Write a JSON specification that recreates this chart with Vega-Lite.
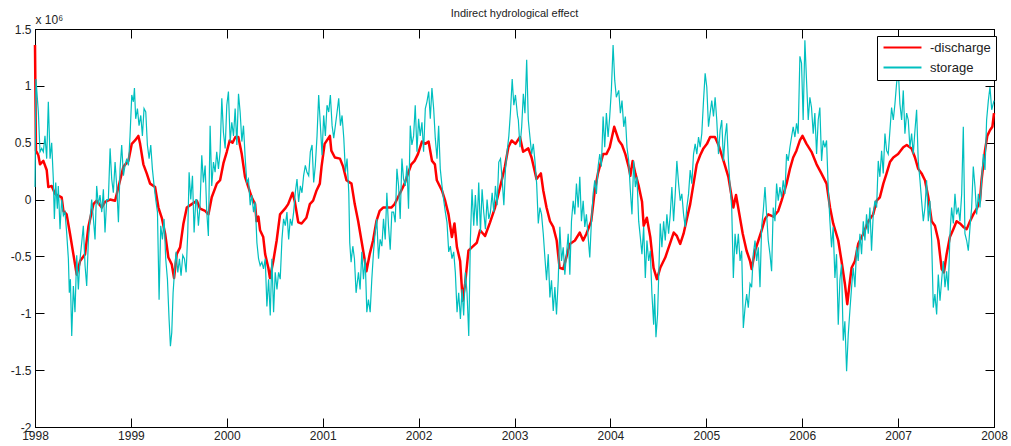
{
"$schema": "https://vega.github.io/schema/vega-lite/v6.json",
"width": 959, "height": 398,
"autosize": {"type": "none"},
"padding": {"left": 35, "top": 29, "right": 17, "bottom": 19},
"background": "white",
"title": {"text": "Indirect hydrological effect", "fontSize": 11, "font": "Liberation Sans", "fontWeight": "normal", "color": "#222", "offset": 9, "dy": 15, "anchor": "middle"},
"config": {
  "view": {"stroke": "black", "strokeWidth": 1},
  "axis": {"grid": false, "domainColor": "black", "domainWidth": 1, "tickColor": "black", "tickWidth": 1, "tickSize": -9,
           "labelFont": "Liberation Sans", "labelFontSize": 12, "labelColor": "#222", "labelFlush": false, "labelOverlap": false, "labelBound": false}
},
"datasets": {
"discharge": [
{"t":1998.000,"v":1.36},{"t":1998.010,"v":0.43},{"t":1998.035,"v":0.39},{"t":1998.052,"v":0.31},{"t":1998.087,"v":0.34},{"t":1998.122,"v":0.26},{"t":1998.139,"v":0.11},{"t":1998.174,"v":0.12},{"t":1998.209,"v":0.05},{"t":1998.278,"v":0.02},{"t":1998.296,"v":-0.10},{"t":1998.330,"v":-0.13},{"t":1998.365,"v":-0.30},{"t":1998.400,"v":-0.48},{"t":1998.435,"v":-0.66},{"t":1998.470,"v":-0.54},{"t":1998.522,"v":-0.48},{"t":1998.557,"v":-0.24},{"t":1998.609,"v":-0.04},{"t":1998.643,"v":-0.01},{"t":1998.696,"v":-0.07},{"t":1998.730,"v":-0.02},{"t":1998.783,"v":0.00},{"t":1998.835,"v":-0.01},{"t":1998.870,"v":0.11},{"t":1998.922,"v":0.29},{"t":1998.974,"v":0.34},
{"t":1999.009,"v":0.49},{"t":1999.043,"v":0.52},{"t":1999.078,"v":0.56},{"t":1999.096,"v":0.49},{"t":1999.130,"v":0.31},{"t":1999.165,"v":0.23},{"t":1999.200,"v":0.14},{"t":1999.252,"v":0.11},{"t":1999.287,"v":-0.07},{"t":1999.322,"v":-0.16},{"t":1999.357,"v":-0.30},{"t":1999.391,"v":-0.51},{"t":1999.426,"v":-0.57},{"t":1999.450,"v":-0.69},{"t":1999.478,"v":-0.48},{"t":1999.513,"v":-0.42},{"t":1999.548,"v":-0.21},{"t":1999.583,"v":-0.07},{"t":1999.635,"v":-0.04},{"t":1999.687,"v":-0.01},{"t":1999.722,"v":-0.08},{"t":1999.774,"v":-0.10},{"t":1999.809,"v":-0.13},{"t":1999.843,"v":0.02},{"t":1999.896,"v":0.14},{"t":1999.930,"v":0.17},{"t":1999.965,"v":0.32},
{"t":2000.000,"v":0.42},{"t":2000.030,"v":0.52},{"t":2000.060,"v":0.50},{"t":2000.090,"v":0.55},{"t":2000.120,"v":0.55},{"t":2000.156,"v":0.40},{"t":2000.190,"v":0.20},{"t":2000.225,"v":0.11},{"t":2000.260,"v":0.02},{"t":2000.295,"v":-0.04},{"t":2000.310,"v":-0.19},{"t":2000.330,"v":-0.15},{"t":2000.347,"v":-0.27},{"t":2000.380,"v":-0.33},{"t":2000.400,"v":-0.48},{"t":2000.433,"v":-0.60},{"t":2000.450,"v":-0.69},{"t":2000.485,"v":-0.54},{"t":2000.520,"v":-0.36},{"t":2000.555,"v":-0.13},{"t":2000.607,"v":-0.08},{"t":2000.640,"v":-0.04},{"t":2000.686,"v":0.06},{"t":2000.710,"v":-0.02},{"t":2000.745,"v":-0.20},{"t":2000.780,"v":-0.21},{"t":2000.830,"v":-0.16},{"t":2000.866,"v":-0.04},{"t":2000.900,"v":-0.01},{"t":2000.936,"v":0.08},{"t":2000.970,"v":0.14},{"t":2000.988,"v":0.29},
{"t":2001.020,"v":0.49},{"t":2001.075,"v":0.56},{"t":2001.090,"v":0.43},{"t":2001.127,"v":0.37},{"t":2001.180,"v":0.36},{"t":2001.213,"v":0.29},{"t":2001.248,"v":0.17},{"t":2001.300,"v":0.14},{"t":2001.334,"v":-0.04},{"t":2001.370,"v":-0.19},{"t":2001.404,"v":-0.36},{"t":2001.440,"v":-0.54},{"t":2001.456,"v":-0.63},{"t":2001.490,"v":-0.48},{"t":2001.525,"v":-0.36},{"t":2001.560,"v":-0.19},{"t":2001.594,"v":-0.10},{"t":2001.630,"v":-0.07},{"t":2001.680,"v":-0.07},{"t":2001.716,"v":-0.07},{"t":2001.750,"v":-0.04},{"t":2001.785,"v":0.02},{"t":2001.820,"v":0.08},{"t":2001.854,"v":0.14},{"t":2001.890,"v":0.23},{"t":2001.924,"v":0.31},{"t":2001.958,"v":0.34},{"t":2001.993,"v":0.40},
{"t":2002.035,"v":0.51},{"t":2002.070,"v":0.49},{"t":2002.104,"v":0.51},{"t":2002.140,"v":0.34},{"t":2002.170,"v":0.31},{"t":2002.190,"v":0.17},{"t":2002.243,"v":0.08},{"t":2002.277,"v":-0.01},{"t":2002.312,"v":-0.13},{"t":2002.347,"v":-0.33},{"t":2002.374,"v":-0.21},{"t":2002.400,"v":-0.42},{"t":2002.433,"v":-0.54},{"t":2002.460,"v":-0.89},{"t":2002.485,"v":-0.74},{"t":2002.520,"v":-0.45},{"t":2002.555,"v":-0.42},{"t":2002.607,"v":-0.38},{"t":2002.641,"v":-0.27},{"t":2002.693,"v":-0.32},{"t":2002.745,"v":-0.20},{"t":2002.797,"v":-0.07},{"t":2002.832,"v":0.05},{"t":2002.867,"v":0.17},{"t":2002.900,"v":0.29},{"t":2002.936,"v":0.46},{"t":2002.970,"v":0.52},
{"t":2003.010,"v":0.49},{"t":2003.057,"v":0.55},{"t":2003.090,"v":0.42},{"t":2003.144,"v":0.45},{"t":2003.178,"v":0.37},{"t":2003.230,"v":0.18},{"t":2003.275,"v":0.23},{"t":2003.300,"v":0.08},{"t":2003.334,"v":-0.07},{"t":2003.370,"v":-0.19},{"t":2003.404,"v":-0.24},{"t":2003.440,"v":-0.36},{"t":2003.470,"v":-0.60},{"t":2003.508,"v":-0.61},{"t":2003.540,"v":-0.51},{"t":2003.577,"v":-0.39},{"t":2003.630,"v":-0.36},{"t":2003.680,"v":-0.29},{"t":2003.716,"v":-0.36},{"t":2003.750,"v":-0.30},{"t":2003.800,"v":-0.19},{"t":2003.837,"v":0.08},{"t":2003.870,"v":0.23},{"t":2003.924,"v":0.40},{"t":2003.958,"v":0.40},{"t":2003.993,"v":0.46},
{"t":2004.040,"v":0.64},{"t":2004.087,"v":0.52},{"t":2004.121,"v":0.48},{"t":2004.156,"v":0.40},{"t":2004.190,"v":0.29},{"t":2004.208,"v":0.21},{"t":2004.232,"v":0.34},{"t":2004.260,"v":0.23},{"t":2004.295,"v":0.12},{"t":2004.330,"v":-0.02},{"t":2004.347,"v":-0.23},{"t":2004.380,"v":-0.16},{"t":2004.416,"v":-0.33},{"t":2004.450,"v":-0.60},{"t":2004.485,"v":-0.70},{"t":2004.520,"v":-0.60},{"t":2004.572,"v":-0.51},{"t":2004.624,"v":-0.38},{"t":2004.660,"v":-0.29},{"t":2004.693,"v":-0.32},{"t":2004.728,"v":-0.39},{"t":2004.763,"v":-0.30},{"t":2004.797,"v":-0.17},{"t":2004.832,"v":-0.04},{"t":2004.867,"v":0.14},{"t":2004.900,"v":0.31},{"t":2004.936,"v":0.39},{"t":2004.970,"v":0.45},
{"t":2005.007,"v":0.49},{"t":2005.040,"v":0.55},{"t":2005.090,"v":0.55},{"t":2005.127,"v":0.48},{"t":2005.180,"v":0.34},{"t":2005.230,"v":0.20},{"t":2005.265,"v":0.02},{"t":2005.282,"v":-0.07},{"t":2005.310,"v":0.04},{"t":2005.345,"v":-0.13},{"t":2005.380,"v":-0.30},{"t":2005.420,"v":-0.45},{"t":2005.456,"v":-0.54},{"t":2005.473,"v":-0.61},{"t":2005.508,"v":-0.45},{"t":2005.543,"v":-0.36},{"t":2005.577,"v":-0.27},{"t":2005.612,"v":-0.17},{"t":2005.646,"v":-0.13},{"t":2005.700,"v":-0.15},{"t":2005.750,"v":-0.10},{"t":2005.785,"v":-0.01},{"t":2005.837,"v":0.14},{"t":2005.872,"v":0.27},{"t":2005.906,"v":0.37},{"t":2005.940,"v":0.43},{"t":2005.976,"v":0.52},
{"t":2006.003,"v":0.56},{"t":2006.045,"v":0.49},{"t":2006.097,"v":0.42},{"t":2006.150,"v":0.31},{"t":2006.200,"v":0.23},{"t":2006.254,"v":0.14},{"t":2006.290,"v":-0.07},{"t":2006.323,"v":-0.21},{"t":2006.376,"v":-0.36},{"t":2006.410,"v":-0.54},{"t":2006.445,"v":-0.74},{"t":2006.470,"v":-0.92},{"t":2006.490,"v":-0.77},{"t":2006.515,"v":-0.60},{"t":2006.550,"v":-0.54},{"t":2006.584,"v":-0.39},{"t":2006.637,"v":-0.30},{"t":2006.690,"v":-0.19},{"t":2006.740,"v":-0.13},{"t":2006.776,"v":-0.01},{"t":2006.810,"v":0.02},{"t":2006.846,"v":0.14},{"t":2006.880,"v":0.23},{"t":2006.915,"v":0.33},{"t":2006.950,"v":0.37},
{"t":2007.000,"v":0.40},{"t":2007.054,"v":0.46},{"t":2007.090,"v":0.48},{"t":2007.140,"v":0.45},{"t":2007.176,"v":0.37},{"t":2007.210,"v":0.27},{"t":2007.245,"v":0.23},{"t":2007.280,"v":0.17},{"t":2007.315,"v":0.02},{"t":2007.350,"v":-0.19},{"t":2007.384,"v":-0.23},{"t":2007.420,"v":-0.36},{"t":2007.454,"v":-0.61},{"t":2007.478,"v":-0.64},{"t":2007.506,"v":-0.48},{"t":2007.540,"v":-0.33},{"t":2007.576,"v":-0.26},{"t":2007.610,"v":-0.19},{"t":2007.645,"v":-0.21},{"t":2007.680,"v":-0.24},{"t":2007.715,"v":-0.26},{"t":2007.750,"v":-0.19},{"t":2007.784,"v":-0.13},{"t":2007.820,"v":-0.08},{"t":2007.854,"v":-0.01},{"t":2007.870,"v":0.17},{"t":2007.906,"v":0.43},{"t":2007.930,"v":0.56},{"t":2007.958,"v":0.61},{"t":2007.983,"v":0.64},{"t":2008.000,"v":0.76}
],
"storage": [
{"t":1998.000,"v":0.11},{"t":1998.010,"v":1.06},{"t":1998.035,"v":0.77},{"t":1998.052,"v":0.42},{"t":1998.070,"v":0.45},{"t":1998.087,"v":0.42},{"t":1998.104,"v":0.56},{"t":1998.122,"v":0.36},{"t":1998.139,"v":0.86},{"t":1998.157,"v":0.36},{"t":1998.174,"v":0.50},{"t":1998.191,"v":0.18},{"t":1998.202,"v":-0.17},{"t":1998.216,"v":0.15},{"t":1998.233,"v":-0.08},{"t":1998.243,"v":0.12},{"t":1998.261,"v":-0.26},{"t":1998.278,"v":0.00},{"t":1998.296,"v":-0.14},{"t":1998.313,"v":-0.11},{"t":1998.330,"v":-0.29},{"t":1998.348,"v":-0.52},{"t":1998.358,"v":-0.82},{"t":1998.369,"v":-0.70},{"t":1998.383,"v":-1.20},{"t":1998.400,"v":-0.76},{"t":1998.417,"v":-0.99},{"t":1998.435,"v":-0.49},{"t":1998.452,"v":-0.79},{"t":1998.470,"v":-0.52},{"t":1998.487,"v":-0.38},{"t":1998.504,"v":-0.23},{"t":1998.522,"v":-0.58},{"t":1998.539,"v":-0.76},{"t":1998.557,"v":-0.35},{"t":1998.574,"v":-0.17},{"t":1998.591,"v":0.00},{"t":1998.609,"v":-0.17},{"t":1998.626,"v":-0.35},{"t":1998.643,"v":0.12},{"t":1998.661,"v":-0.05},{"t":1998.678,"v":0.04},{"t":1998.696,"v":-0.11},{"t":1998.713,"v":0.09},{"t":1998.730,"v":-0.29},{"t":1998.748,"v":0.00},{"t":1998.765,"v":0.00},{"t":1998.783,"v":0.45},{"t":1998.800,"v":0.18},{"t":1998.817,"v":0.06},{"t":1998.835,"v":0.33},{"t":1998.852,"v":0.12},{"t":1998.870,"v":-0.20},{"t":1998.887,"v":0.27},{"t":1998.904,"v":0.48},{"t":1998.922,"v":0.21},{"t":1998.939,"v":0.30},{"t":1998.957,"v":0.36},{"t":1998.974,"v":0.30},{"t":1998.991,"v":0.56},
{"t":1999.009,"v":0.92},{"t":1999.026,"v":0.86},{"t":1999.037,"v":0.98},{"t":1999.050,"v":0.71},{"t":1999.068,"v":0.80},{"t":1999.085,"v":0.65},{"t":1999.103,"v":0.74},{"t":1999.120,"v":0.56},{"t":1999.137,"v":0.80},{"t":1999.155,"v":0.77},{"t":1999.172,"v":0.48},{"t":1999.190,"v":0.36},{"t":1999.207,"v":0.48},{"t":1999.224,"v":0.27},{"t":1999.242,"v":0.12},{"t":1999.259,"v":0.00},{"t":1999.277,"v":-0.11},{"t":1999.294,"v":-0.88},{"t":1999.311,"v":-0.23},{"t":1999.329,"v":-0.35},{"t":1999.346,"v":-0.17},{"t":1999.363,"v":-0.52},{"t":1999.381,"v":-0.70},{"t":1999.398,"v":-1.05},{"t":1999.412,"v":-1.29},{"t":1999.426,"v":-1.17},{"t":1999.440,"v":-0.82},{"t":1999.454,"v":-0.64},{"t":1999.471,"v":-0.46},{"t":1999.489,"v":-0.64},{"t":1999.506,"v":-0.52},{"t":1999.523,"v":-0.67},{"t":1999.541,"v":-0.49},{"t":1999.558,"v":-0.52},{"t":1999.576,"v":-0.64},{"t":1999.593,"v":-0.29},{"t":1999.607,"v":0.24},{"t":1999.624,"v":0.00},{"t":1999.642,"v":0.21},{"t":1999.659,"v":-0.29},{"t":1999.677,"v":0.00},{"t":1999.686,"v":0.00},{"t":1999.704,"v":-0.23},{"t":1999.721,"v":-0.05},{"t":1999.739,"v":0.39},{"t":1999.756,"v":0.15},{"t":1999.774,"v":0.30},{"t":1999.791,"v":-0.11},{"t":1999.808,"v":-0.32},{"t":1999.826,"v":0.65},{"t":1999.843,"v":0.12},{"t":1999.861,"v":0.33},{"t":1999.878,"v":0.24},{"t":1999.895,"v":0.42},{"t":1999.913,"v":0.27},{"t":1999.930,"v":0.42},{"t":1999.948,"v":0.89},{"t":1999.965,"v":0.59},{"t":1999.983,"v":0.45},
{"t":2000.000,"v":0.83},{"t":2000.017,"v":0.95},{"t":2000.035,"v":0.51},{"t":2000.052,"v":0.68},{"t":2000.070,"v":0.56},{"t":2000.087,"v":0.80},{"t":2000.105,"v":0.48},{"t":2000.122,"v":0.93},{"t":2000.139,"v":0.77},{"t":2000.157,"v":0.51},{"t":2000.174,"v":0.65},{"t":2000.192,"v":0.36},{"t":2000.209,"v":0.15},{"t":2000.226,"v":0.18},{"t":2000.244,"v":-0.05},{"t":2000.261,"v":0.04},{"t":2000.279,"v":-0.11},{"t":2000.296,"v":-0.02},{"t":2000.314,"v":-0.38},{"t":2000.331,"v":-0.52},{"t":2000.348,"v":-0.58},{"t":2000.366,"v":-0.55},{"t":2000.383,"v":-0.61},{"t":2000.401,"v":-0.52},{"t":2000.418,"v":-0.94},{"t":2000.436,"v":-0.70},{"t":2000.453,"v":-1.02},{"t":2000.470,"v":-0.52},{"t":2000.488,"v":-0.99},{"t":2000.505,"v":-0.64},{"t":2000.523,"v":-0.79},{"t":2000.540,"v":-0.64},{"t":2000.557,"v":-0.70},{"t":2000.575,"v":-0.35},{"t":2000.592,"v":-0.17},{"t":2000.610,"v":-0.23},{"t":2000.627,"v":-0.11},{"t":2000.645,"v":-0.35},{"t":2000.662,"v":-0.17},{"t":2000.679,"v":-0.23},{"t":2000.697,"v":-0.11},{"t":2000.714,"v":0.06},{"t":2000.732,"v":0.18},{"t":2000.749,"v":-0.02},{"t":2000.767,"v":0.12},{"t":2000.784,"v":0.06},{"t":2000.801,"v":0.21},{"t":2000.819,"v":0.30},{"t":2000.836,"v":0.24},{"t":2000.854,"v":0.21},{"t":2000.871,"v":0.42},{"t":2000.889,"v":0.48},{"t":2000.906,"v":0.15},{"t":2000.923,"v":0.30},{"t":2000.941,"v":0.56},{"t":2000.958,"v":0.92},{"t":2000.976,"v":0.65},{"t":2000.993,"v":0.39},
{"t":2001.010,"v":0.74},{"t":2001.028,"v":0.56},{"t":2001.045,"v":0.83},{"t":2001.063,"v":0.77},{"t":2001.080,"v":0.92},{"t":2001.098,"v":0.65},{"t":2001.115,"v":0.54},{"t":2001.132,"v":0.65},{"t":2001.150,"v":0.77},{"t":2001.167,"v":0.89},{"t":2001.185,"v":0.65},{"t":2001.202,"v":0.74},{"t":2001.220,"v":0.54},{"t":2001.237,"v":0.24},{"t":2001.254,"v":0.36},{"t":2001.272,"v":0.06},{"t":2001.282,"v":-0.38},{"t":2001.296,"v":-0.55},{"t":2001.314,"v":-0.41},{"t":2001.331,"v":-0.52},{"t":2001.348,"v":-0.82},{"t":2001.373,"v":-0.64},{"t":2001.390,"v":-0.79},{"t":2001.408,"v":-0.46},{"t":2001.425,"v":-0.70},{"t":2001.443,"v":-0.52},{"t":2001.460,"v":-0.99},{"t":2001.477,"v":-0.88},{"t":2001.495,"v":-0.99},{"t":2001.512,"v":-0.70},{"t":2001.530,"v":-0.46},{"t":2001.547,"v":-0.29},{"t":2001.564,"v":-0.17},{"t":2001.582,"v":-0.52},{"t":2001.599,"v":-0.35},{"t":2001.617,"v":-0.41},{"t":2001.634,"v":-0.17},{"t":2001.652,"v":-0.35},{"t":2001.669,"v":0.06},{"t":2001.686,"v":-0.23},{"t":2001.704,"v":-0.44},{"t":2001.721,"v":-0.11},{"t":2001.739,"v":-0.11},{"t":2001.756,"v":-0.20},{"t":2001.774,"v":0.27},{"t":2001.791,"v":0.12},{"t":2001.808,"v":-0.17},{"t":2001.826,"v":0.36},{"t":2001.843,"v":0.18},{"t":2001.861,"v":0.12},{"t":2001.878,"v":0.30},{"t":2001.895,"v":-0.08},{"t":2001.913,"v":0.65},{"t":2001.930,"v":0.48},{"t":2001.948,"v":0.56},{"t":2001.965,"v":0.83},{"t":2001.983,"v":0.42},
{"t":2002.000,"v":0.71},{"t":2002.017,"v":0.56},{"t":2002.035,"v":0.68},{"t":2002.052,"v":0.42},{"t":2002.070,"v":0.80},{"t":2002.087,"v":0.86},{"t":2002.105,"v":0.95},{"t":2002.122,"v":0.71},{"t":2002.139,"v":0.98},{"t":2002.157,"v":0.80},{"t":2002.174,"v":0.54},{"t":2002.192,"v":0.36},{"t":2002.209,"v":0.65},{"t":2002.226,"v":0.27},{"t":2002.244,"v":0.12},{"t":2002.261,"v":0.00},{"t":2002.279,"v":-0.11},{"t":2002.296,"v":-0.20},{"t":2002.314,"v":-0.46},{"t":2002.331,"v":-0.41},{"t":2002.348,"v":-0.52},{"t":2002.366,"v":-0.46},{"t":2002.383,"v":-0.64},{"t":2002.401,"v":-0.99},{"t":2002.418,"v":-0.82},{"t":2002.436,"v":-1.05},{"t":2002.453,"v":-0.79},{"t":2002.470,"v":-1.02},{"t":2002.488,"v":-0.64},{"t":2002.505,"v":-0.82},{"t":2002.523,"v":-1.20},{"t":2002.540,"v":-0.35},{"t":2002.557,"v":0.09},{"t":2002.575,"v":-0.23},{"t":2002.592,"v":0.04},{"t":2002.610,"v":-0.23},{"t":2002.627,"v":0.15},{"t":2002.645,"v":-0.29},{"t":2002.662,"v":0.09},{"t":2002.679,"v":-0.11},{"t":2002.697,"v":-0.26},{"t":2002.714,"v":0.00},{"t":2002.732,"v":-0.17},{"t":2002.749,"v":-0.11},{"t":2002.767,"v":0.06},{"t":2002.784,"v":-0.11},{"t":2002.801,"v":0.12},{"t":2002.819,"v":-0.05},{"t":2002.836,"v":0.33},{"t":2002.854,"v":0.36},{"t":2002.871,"v":0.18},{"t":2002.889,"v":-0.05},{"t":2002.906,"v":0.27},{"t":2002.923,"v":0.42},{"t":2002.941,"v":0.56},{"t":2002.958,"v":0.77},{"t":2002.976,"v":1.06},{"t":2002.993,"v":0.83},
{"t":2003.010,"v":0.92},{"t":2003.031,"v":0.74},{"t":2003.040,"v":0.70},{"t":2003.057,"v":0.46},{"t":2003.075,"v":0.64},{"t":2003.092,"v":0.93},{"t":2003.109,"v":0.76},{"t":2003.127,"v":1.23},{"t":2003.144,"v":0.70},{"t":2003.161,"v":0.55},{"t":2003.179,"v":0.40},{"t":2003.196,"v":0.49},{"t":2003.213,"v":0.34},{"t":2003.231,"v":0.14},{"t":2003.248,"v":-0.21},{"t":2003.265,"v":-0.07},{"t":2003.282,"v":-0.13},{"t":2003.300,"v":-0.30},{"t":2003.317,"v":-0.51},{"t":2003.334,"v":-0.71},{"t":2003.352,"v":-0.48},{"t":2003.369,"v":-0.86},{"t":2003.386,"v":-0.71},{"t":2003.404,"v":-0.98},{"t":2003.421,"v":-0.77},{"t":2003.438,"v":-1.01},{"t":2003.456,"v":-0.71},{"t":2003.473,"v":-0.24},{"t":2003.490,"v":-0.54},{"t":2003.508,"v":-0.42},{"t":2003.525,"v":-0.66},{"t":2003.542,"v":-0.48},{"t":2003.560,"v":-0.30},{"t":2003.577,"v":-0.66},{"t":2003.594,"v":-0.19},{"t":2003.612,"v":-0.01},{"t":2003.629,"v":-0.13},{"t":2003.646,"v":0.14},{"t":2003.664,"v":-0.07},{"t":2003.681,"v":0.20},{"t":2003.698,"v":-0.19},{"t":2003.716,"v":-0.01},{"t":2003.733,"v":-0.24},{"t":2003.750,"v":-0.13},{"t":2003.768,"v":-0.33},{"t":2003.785,"v":-0.51},{"t":2003.802,"v":-0.19},{"t":2003.820,"v":0.05},{"t":2003.837,"v":0.17},{"t":2003.854,"v":0.05},{"t":2003.872,"v":0.29},{"t":2003.889,"v":0.40},{"t":2003.906,"v":0.29},{"t":2003.924,"v":0.73},{"t":2003.941,"v":0.46},{"t":2003.958,"v":0.76},{"t":2003.976,"v":0.55},{"t":2003.993,"v":0.73},
{"t":2004.010,"v":0.96},{"t":2004.028,"v":1.36},{"t":2004.045,"v":1.05},{"t":2004.062,"v":0.90},{"t":2004.087,"v":0.96},{"t":2004.104,"v":0.76},{"t":2004.121,"v":0.87},{"t":2004.139,"v":0.64},{"t":2004.156,"v":0.73},{"t":2004.173,"v":0.46},{"t":2004.191,"v":0.34},{"t":2004.208,"v":0.08},{"t":2004.225,"v":-0.13},{"t":2004.243,"v":0.34},{"t":2004.260,"v":0.11},{"t":2004.277,"v":0.20},{"t":2004.295,"v":-0.19},{"t":2004.312,"v":-0.33},{"t":2004.329,"v":-0.48},{"t":2004.347,"v":-0.24},{"t":2004.364,"v":-0.69},{"t":2004.381,"v":-0.36},{"t":2004.399,"v":-0.54},{"t":2004.416,"v":-0.45},{"t":2004.433,"v":-0.83},{"t":2004.451,"v":-1.10},{"t":2004.461,"v":-0.83},{"t":2004.475,"v":-1.21},{"t":2004.492,"v":-1.01},{"t":2004.506,"v":-0.60},{"t":2004.520,"v":-0.21},{"t":2004.537,"v":-0.42},{"t":2004.555,"v":-0.19},{"t":2004.572,"v":-0.36},{"t":2004.589,"v":-0.13},{"t":2004.607,"v":-0.30},{"t":2004.624,"v":-0.13},{"t":2004.641,"v":0.11},{"t":2004.659,"v":-0.19},{"t":2004.676,"v":0.05},{"t":2004.693,"v":0.34},{"t":2004.711,"v":0.14},{"t":2004.728,"v":-0.01},{"t":2004.745,"v":0.05},{"t":2004.763,"v":-0.13},{"t":2004.780,"v":-0.24},{"t":2004.797,"v":-0.07},{"t":2004.815,"v":0.05},{"t":2004.832,"v":0.26},{"t":2004.849,"v":0.14},{"t":2004.867,"v":0.40},{"t":2004.884,"v":0.49},{"t":2004.901,"v":0.40},{"t":2004.919,"v":0.55},{"t":2004.936,"v":0.46},{"t":2004.953,"v":0.58},{"t":2004.971,"v":0.87},{"t":2004.988,"v":1.11},
{"t":2005.005,"v":0.99},{"t":2005.023,"v":0.64},{"t":2005.040,"v":0.76},{"t":2005.057,"v":0.87},{"t":2005.075,"v":0.73},{"t":2005.092,"v":0.90},{"t":2005.109,"v":0.70},{"t":2005.127,"v":0.40},{"t":2005.144,"v":0.61},{"t":2005.161,"v":0.70},{"t":2005.179,"v":0.34},{"t":2005.196,"v":0.55},{"t":2005.213,"v":0.67},{"t":2005.231,"v":0.34},{"t":2005.248,"v":0.11},{"t":2005.265,"v":-0.07},{"t":2005.282,"v":-0.69},{"t":2005.300,"v":-0.30},{"t":2005.317,"v":-0.48},{"t":2005.334,"v":-0.30},{"t":2005.352,"v":-0.54},{"t":2005.369,"v":-0.45},{"t":2005.386,"v":-1.13},{"t":2005.404,"v":-0.95},{"t":2005.421,"v":-0.83},{"t":2005.438,"v":-0.95},{"t":2005.456,"v":-0.74},{"t":2005.473,"v":-0.77},{"t":2005.490,"v":-0.48},{"t":2005.508,"v":-0.36},{"t":2005.525,"v":-0.54},{"t":2005.542,"v":-0.42},{"t":2005.560,"v":-0.77},{"t":2005.577,"v":-0.24},{"t":2005.594,"v":-0.10},{"t":2005.612,"v":0.11},{"t":2005.629,"v":-0.13},{"t":2005.646,"v":-0.36},{"t":2005.664,"v":-0.48},{"t":2005.681,"v":-0.63},{"t":2005.698,"v":-0.07},{"t":2005.716,"v":-0.19},{"t":2005.733,"v":0.14},{"t":2005.750,"v":-0.01},{"t":2005.768,"v":0.11},{"t":2005.785,"v":0.02},{"t":2005.802,"v":0.17},{"t":2005.820,"v":0.05},{"t":2005.837,"v":0.40},{"t":2005.854,"v":0.34},{"t":2005.872,"v":0.46},{"t":2005.889,"v":0.55},{"t":2005.906,"v":0.64},{"t":2005.924,"v":0.55},{"t":2005.941,"v":0.67},{"t":2005.958,"v":0.58},{"t":2005.976,"v":1.26},{"t":2005.993,"v":1.20},
{"t":2006.010,"v":0.70},{"t":2006.028,"v":1.40},{"t":2006.045,"v":1.05},{"t":2006.063,"v":0.70},{"t":2006.080,"v":0.90},{"t":2006.097,"v":0.81},{"t":2006.115,"v":0.58},{"t":2006.132,"v":0.76},{"t":2006.150,"v":0.40},{"t":2006.167,"v":0.70},{"t":2006.184,"v":0.81},{"t":2006.202,"v":0.34},{"t":2006.219,"v":0.52},{"t":2006.237,"v":0.46},{"t":2006.254,"v":0.52},{"t":2006.271,"v":0.11},{"t":2006.289,"v":-0.19},{"t":2006.306,"v":-0.42},{"t":2006.323,"v":-0.24},{"t":2006.341,"v":-0.69},{"t":2006.358,"v":-0.48},{"t":2006.376,"v":-1.10},{"t":2006.393,"v":-0.71},{"t":2006.410,"v":-0.57},{"t":2006.428,"v":-1.24},{"t":2006.445,"v":-1.07},{"t":2006.463,"v":-1.51},{"t":2006.480,"v":-1.19},{"t":2006.497,"v":-0.98},{"t":2006.515,"v":-0.77},{"t":2006.532,"v":-0.60},{"t":2006.550,"v":-0.77},{"t":2006.567,"v":-0.42},{"t":2006.584,"v":-0.54},{"t":2006.602,"v":-0.30},{"t":2006.619,"v":-0.48},{"t":2006.637,"v":-0.19},{"t":2006.654,"v":-0.36},{"t":2006.671,"v":-0.13},{"t":2006.689,"v":-0.30},{"t":2006.706,"v":-0.07},{"t":2006.723,"v":-0.45},{"t":2006.741,"v":-0.13},{"t":2006.758,"v":-0.01},{"t":2006.776,"v":-0.07},{"t":2006.793,"v":0.34},{"t":2006.810,"v":0.20},{"t":2006.828,"v":0.43},{"t":2006.845,"v":0.23},{"t":2006.863,"v":0.58},{"t":2006.880,"v":0.43},{"t":2006.897,"v":0.40},{"t":2006.915,"v":0.61},{"t":2006.932,"v":0.81},{"t":2006.950,"v":0.70},{"t":2006.967,"v":0.84},{"t":2006.984,"v":1.02},
{"t":2007.002,"v":1.14},{"t":2007.019,"v":0.84},{"t":2007.037,"v":0.70},{"t":2007.054,"v":0.96},{"t":2007.071,"v":0.58},{"t":2007.089,"v":0.76},{"t":2007.106,"v":0.70},{"t":2007.123,"v":0.46},{"t":2007.141,"v":0.58},{"t":2007.158,"v":0.40},{"t":2007.176,"v":0.61},{"t":2007.193,"v":0.79},{"t":2007.210,"v":0.34},{"t":2007.228,"v":0.17},{"t":2007.245,"v":-0.01},{"t":2007.263,"v":-0.19},{"t":2007.280,"v":-0.07},{"t":2007.297,"v":0.17},{"t":2007.315,"v":-0.19},{"t":2007.332,"v":-0.01},{"t":2007.350,"v":-0.36},{"t":2007.367,"v":-0.95},{"t":2007.384,"v":-0.83},{"t":2007.402,"v":-1.01},{"t":2007.419,"v":-0.66},{"t":2007.437,"v":-0.89},{"t":2007.454,"v":-0.71},{"t":2007.471,"v":-0.54},{"t":2007.489,"v":-0.77},{"t":2007.506,"v":-0.63},{"t":2007.523,"v":-0.80},{"t":2007.541,"v":-0.30},{"t":2007.558,"v":-0.07},{"t":2007.576,"v":-0.21},{"t":2007.593,"v":0.05},{"t":2007.610,"v":-0.13},{"t":2007.628,"v":-0.07},{"t":2007.645,"v":-0.19},{"t":2007.663,"v":0.05},{"t":2007.680,"v":0.64},{"t":2007.697,"v":-0.30},{"t":2007.715,"v":-0.36},{"t":2007.732,"v":-0.45},{"t":2007.750,"v":-0.24},{"t":2007.767,"v":-0.07},{"t":2007.784,"v":0.29},{"t":2007.802,"v":0.11},{"t":2007.819,"v":-0.13},{"t":2007.837,"v":0.05},{"t":2007.854,"v":-0.07},{"t":2007.871,"v":0.17},{"t":2007.889,"v":0.40},{"t":2007.906,"v":0.26},{"t":2007.923,"v":0.70},{"t":2007.941,"v":0.87},{"t":2007.958,"v":0.99},{"t":2007.976,"v":0.79},{"t":2008.000,"v":0.87}
]
},
"layer": [
{
 "data": {"name": "discharge"},
 "mark": {"type": "line", "strokeWidth": 2.5, "strokeJoin": "round"},
 "encoding": {
  "x": {"field": "t", "type": "quantitative", "scale": {"domain": [1998, 2008], "nice": false, "zero": false},
        "axis": {"orient": "bottom", "values": [1998,1999,2000,2001,2002,2003,2004,2005,2006,2007,2008], "labelExpr": "datum.value + ''", "title": null, "labelPadding": 12}},
  "y": {"field": "v", "type": "quantitative", "scale": {"domain": [-2, 1.5], "nice": false, "zero": false},
        "axis": {"orient": "left", "values": [-2,-1.5,-1,-0.5,0,0.5,1,1.5], "labelExpr": "datum.value + ''", "labelPadding": 13,
                 "title": "x 10⁶", "titleAngle": 0, "titleX": 0, "titleY": -6, "titleAlign": "left", "titleBaseline": "alphabetic",
                 "titleFont": "Liberation Sans", "titleFontSize": 12, "titleFontWeight": "normal", "titleColor": "#222"}},
  "color": {"datum": "-discharge", "type": "nominal",
            "scale": {"domain": ["-discharge", "storage"], "range": ["#FF0000", "#00BFBF"]},
            "legend": {"orient": "none", "legendX": 842, "legendY": 7, "title": null, "symbolType": "M-4,0H4", "symbolSize": 90,
                       "symbolOffset": 14, "symbolStrokeWidth": 2, "strokeColor": "black", "fillColor": "white", "padding": 5,
                       "labelFont": "Liberation Sans", "labelFontSize": 13, "labelColor": "#222", "labelOffset": 21, "rowPadding": 6}}
 }
},
{
 "data": {"name": "storage"},
 "mark": {"type": "line", "strokeWidth": 1.2},
 "encoding": {
  "x": {"field": "t", "type": "quantitative", "scale": {"domain": [1998, 2008], "nice": false, "zero": false},
        "axis": {"orient": "top", "values": [1998,1999,2000,2001,2002,2003,2004,2005,2006,2007,2008], "labels": false, "title": null}},
  "y": {"field": "v", "type": "quantitative", "scale": {"domain": [-2, 1.5], "nice": false, "zero": false},
        "axis": {"orient": "right", "values": [-2,-1.5,-1,-0.5,0,0.5,1,1.5], "labels": false, "title": null}},
  "color": {"datum": "storage", "type": "nominal"}
 }
}
],
"resolve": {"axis": {"x": "independent", "y": "independent"}}
}
